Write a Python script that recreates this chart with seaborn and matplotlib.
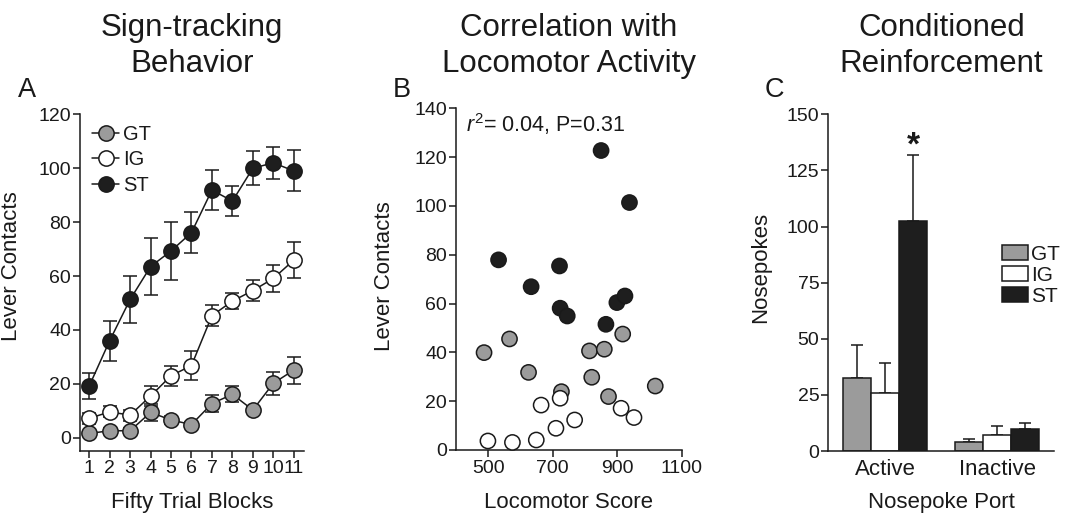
import matplotlib
matplotlib.use("Agg")
import matplotlib.pyplot as plt
import numpy as np
import pandas as pd
import seaborn as sns

# panel A: lever contacts per block (mean, sem)
blocks = [1, 2, 3, 4, 5, 6, 7, 8, 9, 10, 11]
gt_mean = [1.6, 2.6, 2.6, 9.4, 6.6, 4.9, 12.7, 16.1, 10.3, 20.2, 25.1]
gt_sem = [1.0, 1.0, 1.0, 3.0, 1.5, 1.0, 3.2, 3.0, 1.0, 4.2, 5.0]
ig_mean = [7.2, 9.6, 8.4, 15.5, 23.0, 26.8, 45.3, 50.7, 54.6, 59.1, 65.9]
ig_sem = [2.0, 2.0, 2.0, 3.8, 3.8, 5.3, 4.0, 3.1, 4.0, 5.0, 6.8]
st_mean = [19.2, 36.0, 51.3, 63.5, 69.3, 76.1, 91.9, 87.8, 100.0, 102.0, 99.0]
st_sem = [4.8, 7.5, 8.7, 10.7, 10.7, 7.7, 7.5, 5.7, 6.3, 6.0, 7.6]

# panel B: locomotor score vs lever contacts
gt_loco = [487, 566, 625, 727, 814, 821, 860, 873, 917, 1018]
gt_lever = [39.9, 45.5, 31.8, 23.9, 40.6, 29.8, 41.3, 21.9, 47.5, 26.2]
ig_loco = [499, 575, 649, 664, 710, 723, 768, 912, 952]
ig_lever = [3.7, 3.1, 4.1, 18.4, 8.9, 21.2, 12.3, 17.1, 13.3]
st_loco = [532, 633, 721, 723, 745, 850, 865, 899, 924, 938]
st_lever = [77.9, 66.9, 75.4, 58.1, 54.9, 122.7, 51.5, 60.4, 63.1, 101.4]

# panel C: nosepokes
ports = ["Active", "Inactive"]
groups = ["GT", "IG", "ST"]
poke_mean = {"GT": [32.7, 4.2], "IG": [26.0, 7.1], "ST": [102.5, 9.8]}
poke_sem = {"GT": [14.5, 1.0], "IG": [13.4, 4.0], "ST": [29.4, 2.5]}

colors = {"GT": "#9b9b9b", "IG": "#ffffff", "ST": "#1e1e1e"}
ink = "#1a1a1a"

sns.set_style("ticks")
plt.rcParams['font.family'] = ['Liberation Sans', 'DejaVu Sans']
plt.rcParams['mathtext.fontset'] = 'custom'
plt.rcParams['mathtext.rm'] = 'Liberation Sans'
plt.rcParams['mathtext.it'] = 'Liberation Sans:italic'
plt.rcParams['axes.linewidth'] = 1.1
plt.rcParams['xtick.major.width'] = 1.1
plt.rcParams['ytick.major.width'] = 1.1
plt.rcParams['xtick.major.size'] = 5
plt.rcParams['ytick.major.size'] = 5
plt.rcParams['text.color'] = ink
plt.rcParams['axes.labelcolor'] = ink
plt.rcParams['xtick.color'] = ink
plt.rcParams['ytick.color'] = ink
plt.rcParams['axes.edgecolor'] = ink

fig = plt.figure(figsize=(10.74, 5.19), dpi=100)
axA = fig.add_axes([80 / 1074, 1 - 450.7 / 519, 224 / 1074, 336.4 / 519])
axB = fig.add_axes([456 / 1074, 1 - 450 / 519, 225.7 / 1074, 341.7 / 519])
axC = fig.add_axes([828.3 / 1074, 1 - 451 / 519, 226 / 1074, 336.7 / 519])

# ---- A
series = [("GT", gt_mean, gt_sem), ("IG", ig_mean, ig_sem), ("ST", st_mean, st_sem)]
for name, m, s in series:
    axA.errorbar(blocks, m, yerr=s, fmt='none', ecolor=ink, elinewidth=1.1,
                 capsize=5, capthick=1.1, zorder=1)
for name, m, s in series:
    sns.lineplot(x=blocks, y=m, ax=axA, color=ink, linewidth=1.1, marker='o',
                 markersize=11, markerfacecolor=colors[name], markeredgecolor=ink,
                 markeredgewidth=1.1, label=name, zorder=3)
axA.set_xlim(0.55, 11.5)
axA.set_ylim(-4.8, 120)
axA.set_xticks(blocks)
axA.set_yticks([0, 20, 40, 60, 80, 100, 120])
axA.tick_params(axis='x', labelsize=14, pad=2)
axA.tick_params(axis='y', labelsize=14, pad=1.5)
axA.set_xlabel("Fifty Trial Blocks", fontsize=16)
axA.set_ylabel("Lever Contacts", fontsize=16)
axA.xaxis.set_label_coords(0.5, -0.123)
axA.yaxis.set_label_coords(-0.26, 0.55)
axA.legend(loc='upper left', bbox_to_anchor=(0.0, 1.005), frameon=False,
           fontsize=14.5, handlelength=1.35, handletextpad=0.2,
           labelspacing=0.32, borderaxespad=0.2)
sns.despine(ax=axA)

# ---- B
dfB = pd.DataFrame({
    "loco": gt_loco + ig_loco + st_loco,
    "lever": gt_lever + ig_lever + st_lever,
    "group": ["GT"] * len(gt_loco) + ["IG"] * len(ig_loco) + ["ST"] * len(st_loco),
})
sns.scatterplot(data=dfB, x="loco", y="lever", hue="group", palette=colors, ax=axB,
                s=120, edgecolor=ink, linewidth=1.1, legend=False, clip_on=False, zorder=3)
axB.set_xlim(400, 1100)
axB.set_ylim(0, 140)
axB.set_xticks([500, 700, 900, 1100])
axB.set_yticks([0, 20, 40, 60, 80, 100, 120, 140])
axB.tick_params(axis='x', labelsize=14, pad=2)
axB.tick_params(axis='y', labelsize=14, pad=1.5)
axB.set_xlabel("Locomotor Score", fontsize=16)
axB.set_ylabel("Lever Contacts", fontsize=16)
axB.xaxis.set_label_coords(0.5, -0.123)
axB.yaxis.set_label_coords(-0.27, 0.51)
axB.text(0.045, 0.955, r"$\mathit{r}^{2}$= 0.04, P=0.31", transform=axB.transAxes,
         fontsize=15.5, ha='left', va='center')
sns.despine(ax=axB)

# ---- C
dfC = pd.DataFrame({
    "port": ports * 3,
    "pokes": poke_mean["GT"] + poke_mean["IG"] + poke_mean["ST"],
    "group": ["GT"] * 2 + ["IG"] * 2 + ["ST"] * 2,
})
sns.barplot(data=dfC, x="port", y="pokes", hue="group", order=ports, hue_order=groups,
            palette=colors, width=0.75, edgecolor=ink, linewidth=1.1, errorbar=None,
            ax=axC, zorder=2)
# one-sided sem bars, placed on the bars seaborn drew
for g, bar_set in zip(groups, axC.containers):
    for bar, err in zip(bar_set, poke_sem[g]):
        cx = bar.get_x() + bar.get_width() / 2
        axC.errorbar([cx], [bar.get_height()], yerr=[[0], [err]], fmt='none',
                     ecolor=ink, elinewidth=1.1, capsize=4, capthick=1.1, zorder=1)
st_active = axC.containers[2][0]
axC.text(st_active.get_x() + st_active.get_width() / 2, 136, "*", ha='center',
         va='center', fontsize=24, fontweight='bold')
axC.set_xlim(-0.51, 1.51)
axC.set_ylim(0, 150)
axC.set_yticks([0, 25, 50, 75, 100, 125, 150])
axC.tick_params(axis='x', length=0, labelsize=16, pad=6)
axC.tick_params(axis='y', labelsize=14, pad=1.5)
axC.set_xlabel("Nosepoke Port", fontsize=16)
axC.set_ylabel("Nosepokes", fontsize=16)
axC.xaxis.set_label_coords(0.5, -0.122)
axC.yaxis.set_label_coords(-0.255, 0.546)
axC.legend(loc='upper left', bbox_to_anchor=(0.77, 0.613), frameon=False, fontsize=15,
           handlelength=1.25, handleheight=0.7, handletextpad=0.15, labelspacing=0.1,
           borderaxespad=0.0, borderpad=0.0)
sns.despine(ax=axC)

# titles and panel letters
axA.set_title("Sign-tracking\nBehavior", fontsize=22.5, pad=30.5, linespacing=1.25)
axB.set_title("Correlation with\nLocomotor Activity", fontsize=22.5, pad=26, linespacing=1.25)
axC.set_title("Conditioned\nReinforcement", fontsize=22.5, pad=30.5, linespacing=1.25)
for letter, xpx in [("A", 18), ("B", 393), ("C", 765)]:
    fig.text(xpx / 1074, 1 - 97 / 519, letter, fontsize=19.5, ha='left', va='baseline')

fig.savefig("out.png", dpi=100)
